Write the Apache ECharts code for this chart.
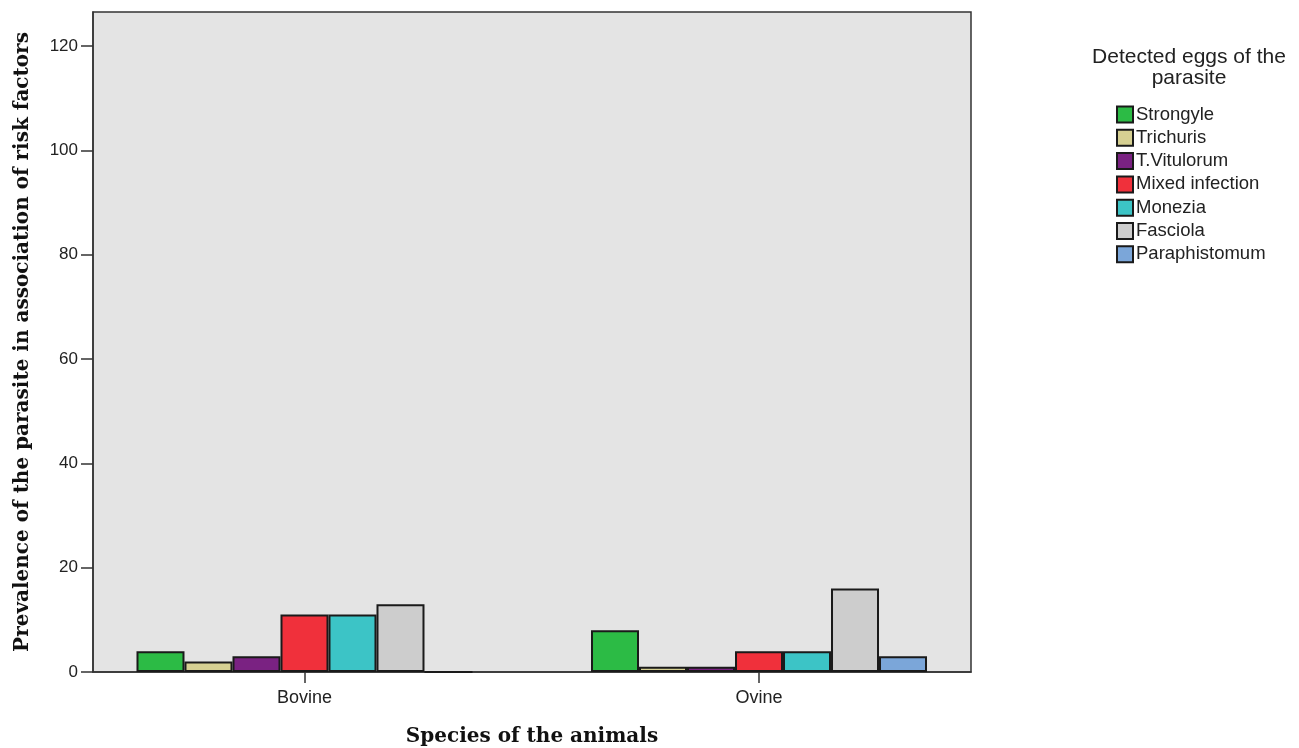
<!DOCTYPE html>
<html>
<head>
<meta charset="utf-8">
<script src="https://cdn.jsdelivr.net/npm/echarts@6/dist/echarts.min.js"></script>
<style>html,body{margin:0;padding:0;background:#fff}#c{width:1299px;height:748px}</style>
</head>
<body>
<div id="c"></div>
<script>
const categories = ['Bovine', 'Ovine'];
const seriesNames = ['Strongyle', 'Trichuris', 'T.Vitulorum', 'Mixed infection', 'Monezia', 'Fasciola', 'Paraphistomum'];
const bovine = [4, 2, 3, 11, 11, 13, 0];
const ovine = [8, 1, 1, 4, 4, 16, 3];
const yTicks = [0, 20, 40, 60, 80, 100, 120];
const colors = ['#2cbb45', '#d6d092', '#7a2282', '#f0303b', '#3cc4c6', '#cdcdcd', '#7ba6d9'];

const serif = 'DejaVu Serif, Liberation Serif, serif';
const sans = 'Liberation Sans, Arial, sans-serif';

const chart = echarts.init(document.getElementById('c'));
const series = seriesNames.map((n, i) => ({
  name: n,
  type: 'bar',
  barWidth: 48,
  barGap: '0%',
  itemStyle: { color: colors[i], borderColor: '#1a1a1a', borderWidth: 2 },
  data: [[0, bovine[i]], [1, ovine[i]]]
}));

chart.setOption({
  animation: false,
  textStyle: { fontFamily: sans },
  title: {
    text: 'Detected eggs of the\nparasite',
    left: 1189, top: 47, textAlign: 'center', padding: 0,
    textStyle: { fontSize: 21, fontWeight: 'normal', color: '#222', lineHeight: 21, fontFamily: sans }
  },
  legend: {
    orient: 'vertical', left: 1116, top: 105, padding: 0,
    itemWidth: 16, itemHeight: 16, itemGap: 4.3,
    icon: 'rect',
    textStyle: { fontSize: 18.5, color: '#222', padding: [0, 0, 0, -2] },
    data: seriesNames
  },
  grid: {
    left: 93, right: 328, top: 12, bottom: 76,
    outerBoundsMode: 'none', containLabel: false,
    show: true, backgroundColor: '#e4e4e4', borderColor: '#333', borderWidth: 1.5
  },
  xAxis: {
    type: 'value', min: -0.4653, max: 1.4664,
    name: 'Species of the animals', nameLocation: 'middle', nameGap: 55,
    nameTextStyle: { fontFamily: serif, fontWeight: 'bold', fontSize: 20, color: '#111' },
    axisLine: { show: true, onZero: false, lineStyle: { color: '#333', width: 1.5 } },
    axisTick: { show: true, length: 11, customValues: [0, 1], lineStyle: { color: '#333', width: 1.5 } },
    axisLabel: { customValues: [0, 1], formatter: v => categories[Math.round(v)], fontSize: 18, color: '#222', margin: 17 },
    splitLine: { show: false }
  },
  yAxis: {
    type: 'value', min: 0, max: 126.5,
    name: 'Prevalence of the parasite in association of risk factors', nameLocation: 'middle', nameGap: 60,
    nameTextStyle: { fontFamily: serif, fontWeight: 'bold', fontSize: 20, color: '#111' },
    axisLine: { show: true, onZero: false, lineStyle: { color: '#333', width: 1.5 } },
    axisTick: { show: true, length: 12, customValues: yTicks, lineStyle: { color: '#333', width: 1.5 } },
    axisLabel: { customValues: yTicks, fontSize: 17, color: '#222', margin: 15 },
    splitLine: { show: false }
  },
  series: series
});
</script>
</body>
</html>
